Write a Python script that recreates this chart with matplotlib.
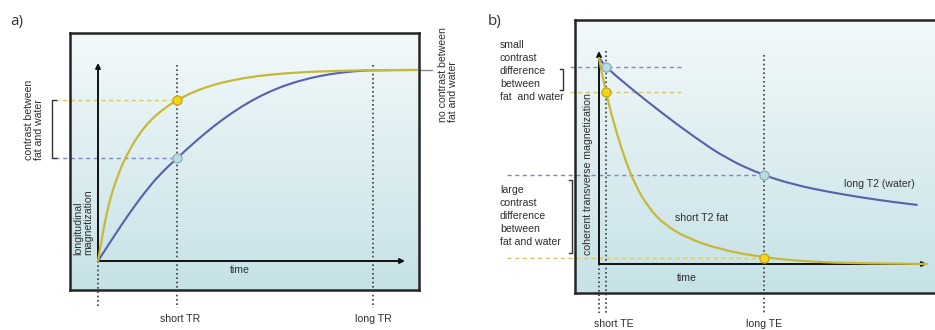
import numpy as np
import matplotlib.pyplot as plt
from matplotlib.colors import LinearSegmentedColormap
from matplotlib.path import Path
from matplotlib.patches import PathPatch

# ---------------------------------------------------------
# -----------------------values
# ---------------------------------------------------------
# a) T1 recovery (longitudinal magnetization, saturates at 1)
fat_t1_time = [0, 0.1, 0.2, 0.3, 0.42, 0.6, 0.8, 1.0, 1.3, 1.64, 2.1, 2.58, 3.1, 3.7, 4.4, 5.2, 6.1, 7.1, 8.2, 9.3, 10.4]
fat_t1_mag = [0, 0.095, 0.183, 0.261, 0.338, 0.428, 0.508, 0.574, 0.655, 0.726, 0.793, 0.843, 0.885, 0.92, 0.948,
              0.969, 0.983, 0.992, 0.997, 1.0, 1.0]
water_t1_time = [0, 0.5, 1.0, 1.5, 2.0, 2.58, 3.2, 3.8, 4.4, 5.0, 5.6, 6.2, 6.9, 7.6, 8.3, 8.96, 10.4]
water_t1_mag = [0, 0.125, 0.245, 0.355, 0.452, 0.539, 0.63, 0.71, 0.78, 0.84, 0.888, 0.926, 0.958, 0.98, 0.993, 1.0, 1.0]
short_tr, long_tr = 2.58, 8.96

# b) T2 decay (coherent transverse magnetization)
water_t2_time = [0, 0.213, 0.9, 1.9, 2.9, 3.9, 5.02, 6.0, 7.0, 8.0, 9.0, 9.69]
water_t2_mag = [1.0, 0.955, 0.862, 0.735, 0.617, 0.51, 0.43, 0.383, 0.35, 0.323, 0.30, 0.287]
fat_t2_time = [0, 0.1, 0.213, 0.35, 0.55, 0.8, 1.1, 1.5, 2.0, 2.7, 3.7, 5.02, 6.5, 8.0, 10.0]
fat_t2_mag = [1.0, 0.915, 0.836, 0.745, 0.63, 0.505, 0.385, 0.275, 0.19, 0.125, 0.07, 0.031, 0.01, 0.003, 0.0]
short_te, long_te = 0.213, 5.02

# ---------------------------------------------------------
# -----------------------styles
# ---------------------------------------------------------
plt.rcParams['font.family'] = ['Liberation Sans', 'DejaVu Sans']
YELLOW = '#c8b838'
BLUE = '#5660ad'
TXT = '#2e2e2e'
FS = 7.6
dotted = dict(color='#3c3c3c', lw=1.2, ls=(0, (1.0, 1.6)), clip_on=False, zorder=3)
dash = (0, (3, 2.5))
bg = LinearSegmentedColormap.from_list('bg', ['#f3f9fa', '#c6e2e7'])

W, H = 935, 330
fig = plt.figure(figsize=(W / 100, H / 100), dpi=100)


def panel(box, origin, scale):
    # box = (left, top, right, bottom) in pixels, origin/scale map data -> pixels
    l, t, r, b = box
    ax = fig.add_axes([l / W, 1 - b / H, (r - l) / W, (b - t) / H])
    xlim = ((l - origin[0]) / scale[0], (r - origin[0]) / scale[0])
    ylim = ((origin[1] - b) / scale[1], (origin[1] - t) / scale[1])
    grad = np.linspace(1, 0, 256).reshape(-1, 1)
    ax.imshow(grad, extent=[*xlim, *ylim], aspect='auto', cmap=bg, origin='lower', zorder=0)
    ax.set_xlim(xlim)
    ax.set_ylim(ylim)
    ax.set_xticks([])
    ax.set_yticks([])
    for s in ax.spines.values():
        s.set_linewidth(1.8)
        s.set_color('#252525')
    return ax


def curve(ax, xs, ys, color, lw):
    # smooth quadratic bezier through the read points (midpoint scheme)
    pts = list(zip(xs, ys))
    verts, codes = [pts[0]], [Path.MOVETO]
    for i in range(1, len(pts) - 1):
        mid = ((pts[i][0] + pts[i + 1][0]) / 2, (pts[i][1] + pts[i + 1][1]) / 2)
        verts += [pts[i], mid if i < len(pts) - 2 else pts[-1]]
        codes += [Path.CURVE3, Path.CURVE3]
    ax.add_patch(PathPatch(Path(verts, codes), fill=False, edgecolor=color, lw=lw,
                           capstyle='round', zorder=5))


def axis_arrows(ax, xend, yend):
    for xy in [(xend, 0), (0, yend)]:
        ax.annotate('', xy=xy, xytext=(0, 0),
                    arrowprops=dict(arrowstyle='-|>', color='#111', lw=1.4,
                                    mutation_scale=7, shrinkA=0, shrinkB=0), zorder=4)


def bracket(ax, x, y0, y1, cap):
    ax.plot([x + cap, x, x, x + cap], [y0, y0, y1, y1], color='#333', lw=1.0, clip_on=False)


def dot(ax, x, y, face, edge):
    ax.plot(x, y, 'o', ms=6.5, mfc=face, mec=edge, mew=1.0, zorder=6, clip_on=False)


def vtext(ax, x, y, s):
    ax.text(x, y, s, rotation=90, rotation_mode='anchor', ha='left', va='center',
            multialignment='left', fontsize=FS, color=TXT, linespacing=1.0)


# ---------------------------------------------------------
# -----------------------a) T1
# ---------------------------------------------------------
ax = panel((70, 33, 419, 290), (98, 261), (30.7, 191))
axis_arrows(ax, 10.0, 1.037)

curve(ax, water_t1_time, water_t1_mag, BLUE, 1.5)
curve(ax, fat_t1_time, fat_t1_mag, YELLOW, 1.6)

ax.plot([0, 0], [0, -0.246], **dotted)
ax.plot([short_tr, short_tr], [1.026, -0.246], **dotted)
ax.plot([long_tr, long_tr], [1.026, -0.246], **dotted)

fat_tr = fat_t1_mag[fat_t1_time.index(short_tr)]
water_tr = water_t1_mag[water_t1_time.index(short_tr)]
ax.plot([-1.40, short_tr], [fat_tr, fat_tr], color='#d6cb6a', lw=1.0, ls=dash, clip_on=False)
ax.plot([-1.40, short_tr], [water_tr, water_tr], color='#8088c4', lw=1.0, ls=dash, clip_on=False)
bracket(ax, -1.50, fat_tr, water_tr, 0.13)
dot(ax, short_tr, fat_tr, '#f4d51c', '#c9a814')
dot(ax, short_tr, water_tr, '#b9dbdf', '#8db4bd')

# leader to the "no contrast" note
ax.plot([10.456, 10.88], [1.0, 1.0], color='#8a8a8a', lw=1.0, clip_on=False)

vtext(ax, -2.07, 0.529, 'contrast between\nfat and water')
vtext(ax, 11.40, 0.728, 'no contrast between\nfat and water')
vtext(ax, -0.49, 0.031, 'longitudinal\nmagnetization')
ax.text(4.63, -0.047, 'time', ha='center', va='center', fontsize=FS, color=TXT)
ax.text(2.67, -0.304, 'short TR', ha='center', va='center', fontsize=FS, color=TXT)
ax.text(long_tr, -0.304, 'long TR', ha='center', va='center', fontsize=FS, color=TXT)

# ---------------------------------------------------------
# -----------------------b) T2
# ---------------------------------------------------------
bx = panel((575, 20, 940, 293), (599, 264), (32.8, 206))
axis_arrows(bx, 10.0, 1.034)

curve(bx, water_t2_time, water_t2_mag, BLUE, 1.5)
curve(bx, fat_t2_time, fat_t2_mag, YELLOW, 1.6)

bx.plot([0, 0], [0, -0.238], **dotted)
bx.plot([short_te, short_te], [1.034, -0.238], **dotted)
bx.plot([long_te, long_te], [1.015, -0.238], **dotted)

w_s = water_t2_mag[water_t2_time.index(short_te)]
f_s = fat_t2_mag[fat_t2_time.index(short_te)]
w_l = water_t2_mag[water_t2_time.index(long_te)]
f_l = fat_t2_mag[fat_t2_time.index(long_te)]
bx.plot([-0.88, 2.56], [w_s, w_s], color='#8088c4', lw=1.0, ls=dash, clip_on=False)
bx.plot([-0.88, 2.56], [f_s, f_s], color='#d6cb6a', lw=1.0, ls=dash, clip_on=False)
bx.plot([-2.80, long_te], [w_l, w_l], color='#8088c4', lw=1.0, ls=dash, clip_on=False)
bx.plot([-2.80, long_te], [f_l, f_l], color='#d6cb6a', lw=1.0, ls=dash, clip_on=False)
bracket(bx, -1.10, w_s - 0.01, f_s + 0.01, -0.08)
bracket(bx, -0.82, w_l - 0.02, f_l + 0.02, -0.08)
dot(bx, short_te, w_s, '#b9dbdf', '#8db4bd')
dot(bx, short_te, f_s, '#f4d51c', '#c9a814')
dot(bx, long_te, w_l, '#b9dbdf', '#8db4bd')
dot(bx, long_te, f_l, '#f4d51c', '#c9a814')

bx.text(-3.02, 1.088, 'small\ncontrast\ndifference\nbetween\nfat  and water', ha='left', va='top',
        fontsize=FS, color=TXT, linespacing=1.38)
bx.text(-3.02, 0.384, 'large\ncontrast\ndifference\nbetween\nfat and water', ha='left', va='top',
        fontsize=FS, color=TXT, linespacing=1.38)
bx.text(-0.335, 0.044, 'coherent transverse magnetization', rotation=90, rotation_mode='anchor',
        ha='left', va='center', fontsize=FS, color=TXT)
bx.text(2.68, -0.068, 'time', ha='center', va='center', fontsize=FS, color=TXT)
bx.text(3.14, 0.223, 'short T2 fat', ha='center', va='center', fontsize=FS, color=TXT)
bx.text(8.54, 0.388, 'long T2 (water)', ha='center', va='center', fontsize=FS, color=TXT)
bx.text(0.46, -0.291, 'short TE', ha='center', va='center', fontsize=FS, color=TXT)
bx.text(long_te, -0.291, 'long TE', ha='center', va='center', fontsize=FS, color=TXT)

fig.text(17 / W, 1 - 22 / H, 'a)', ha='center', va='center', fontsize=11, color='#333', family='Open Sans')
fig.text(495 / W, 1 - 22 / H, 'b)', ha='center', va='center', fontsize=11, color='#333', family='Open Sans')

fig.savefig('out.png', dpi=100)
